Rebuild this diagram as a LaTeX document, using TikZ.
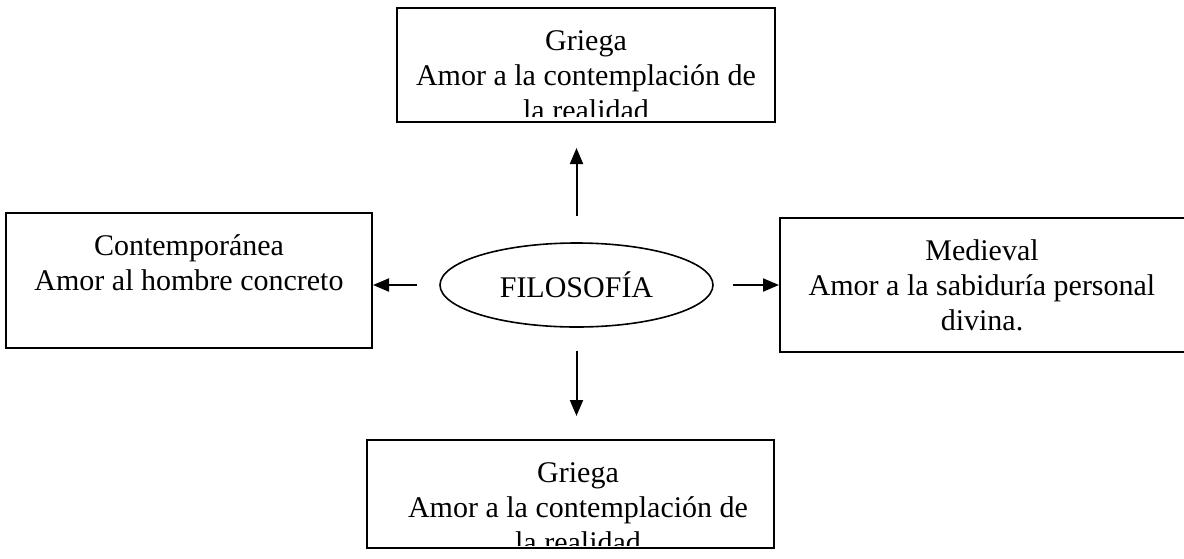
\documentclass[tikz,border=0pt]{standalone}
\usepackage{fontspec}
\setmainfont{Liberation Serif}
\usetikzlibrary{arrows.meta,shapes.geometric}
\begin{document}
\begin{tikzpicture}[x=1pt,y=-1pt,
  box/.style={draw, line width=2pt, inner sep=0pt},
  lbl/.style={font=\fontsize{30}{35}\selectfont, align=center, inner sep=0pt, anchor=base},
  arr/.style={line width=2pt, -{Triangle[length=16pt,width=13pt]}}]
\path[use as bounding box] (0,0) rectangle (1184,558);
\clip (0,0) rectangle (1184,558);
% boxes
\node[box, minimum width=378pt, minimum height=114pt] (top) at (586,65) {};
\node[box, minimum width=366pt, minimum height=135pt] (left) at (189,280.5) {};
\node[box, minimum width=420pt, minimum height=134pt] (right) at (990,285) {};
\node[box, minimum width=407pt, minimum height=108pt] (bottom) at (570.5,494) {};
% centre
\node[draw, ellipse, line width=1.6pt, minimum width=273pt, minimum height=84pt, inner sep=0pt,
      font=\fontsize{30}{35}\selectfont] (ell) at (576.5,285) {FILOSOF\'IA};
% texts
\begin{scope}
  \clip (397,8) rectangle (775,116);
  \node[lbl] (toptext) at (586,120) {Griega\\Amor a la contemplación de\\la realidad};
\end{scope}
\node[lbl] (lefttext) at (189,290) {Contemporánea\\Amor al hombre concreto};
\node[lbl] (righttext) at (982,330) {Medieval\\Amor a la sabiduría personal\\divina.};
\begin{scope}
  \clip (367,440) rectangle (774,545);
  \node[lbl] (bottomtext) at (578,552) {Griega\\Amor a la contemplación de\\la realidad};
\end{scope}
% arrows
\draw[arr, shorten <=26pt, shorten >=25pt] (ell.north) -- (ell.north |- top.south);
\draw[arr, shorten <=22pt] (ell.west) -- (ell.west -| left.east);
\draw[arr, shorten <=19pt] (ell.east) -- (ell.east -| right.west);
\draw[arr, shorten <=23pt, shorten >=23pt] (ell.south) -- (ell.south |- bottom.north);
\end{tikzpicture}
\end{document}
